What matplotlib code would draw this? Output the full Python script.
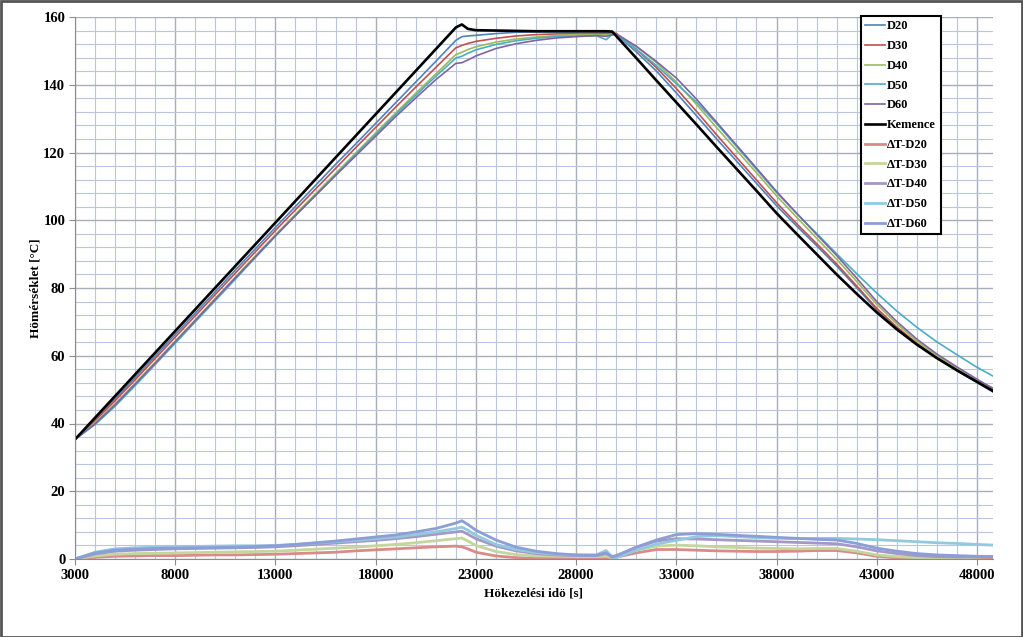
import matplotlib
matplotlib.use("Agg")
import matplotlib.pyplot as plt
from matplotlib.ticker import MultipleLocator, FixedLocator
from matplotlib.patches import Rectangle

plt.rcParams['font.family'] = ['Liberation Serif', 'DejaVu Serif']

time_s = [3000, 4000, 5000, 6000, 7000, 8000, 9000, 10000, 11000, 12000,
          13000, 14000, 15000, 16000, 17000, 18000, 19000, 20000, 21000, 22000,
          22300, 22600, 23000, 24000, 25000, 26000, 27000, 28000, 29000, 29500,
          29800, 30000, 31000, 32000, 33000, 34000, 35000, 36000, 37000, 38000,
          39000, 40000, 41000, 42000, 43000, 44000, 45000, 46000, 47000, 48000,
          48800]

kemence = [35.3, 41.7, 48.1, 54.5, 60.9, 67.3, 73.7, 80.1, 86.5, 92.9,
           99.3, 105.7, 112.1, 118.5, 124.9, 131.3, 137.7, 144.1, 150.5, 156.9,
           157.8, 156.5, 156.1, 156.0, 155.9, 155.8, 155.8, 155.8, 155.8, 155.8,
           155.7, 154.4, 147.9, 141.3, 134.8, 128.3, 121.7, 115.2, 108.7, 102.1,
           96.0, 90.0, 84.0, 78.3, 72.8, 67.8, 63.3, 59.3, 55.7, 52.3,
           49.6]

d20 = [35.3, 41.2, 47.3, 53.6, 59.9, 66.3, 72.6, 78.9, 85.3, 91.6,
       97.9, 104.1, 110.3, 116.5, 122.5, 128.6, 134.7, 140.8, 146.9, 153.1,
       154.2, 154.4, 154.6, 155.1, 155.5, 155.6, 155.6, 155.6, 155.6, 155.5,
       155.5, 154.9, 149.7, 144.1, 137.6, 130.9, 124.1, 117.5, 110.9, 104.3,
       98.3, 92.5, 86.5, 80.1, 73.6, 68.1, 63.4, 59.3, 55.6, 52.1,
       49.3]

d30 = [35.3, 40.8, 46.7, 52.9, 59.2, 65.5, 71.8, 78.1, 84.4, 90.7,
       97.0, 103.1, 109.2, 115.3, 121.4, 127.4, 133.4, 139.3, 145.1, 150.9,
       151.6, 152.2, 152.8, 153.7, 154.4, 154.8, 155.0, 155.1, 155.2, 155.1,
       155.2, 155.2, 150.5, 145.1, 138.9, 132.2, 125.3, 118.6, 111.9, 105.2,
       99.0, 93.1, 87.1, 80.6, 74.0, 68.5, 63.7, 59.5, 56.0, 52.8,
       50.4]

d40 = [35.3, 40.2, 45.8, 51.9, 58.1, 64.3, 70.6, 76.9, 83.2, 89.5,
       95.7, 101.8, 107.8, 113.8, 119.8, 125.8, 131.7, 137.5, 143.2, 148.9,
       149.6, 150.4, 151.2, 152.6, 153.5, 154.1, 154.5, 154.8, 154.8, 154.7,
       154.9, 155.0, 151.3, 146.6, 140.8, 134.2, 127.4, 120.7, 114.0, 107.2,
       100.9, 94.7, 88.5, 81.9, 75.2, 69.4, 64.3, 60.0, 56.3, 52.9,
       50.3]

d50 = [35.3, 39.7, 45.1, 51.2, 57.4, 63.7, 70.0, 76.3, 82.6, 89.0,
       95.3, 101.4, 107.4, 113.4, 119.4, 125.3, 131.2, 136.9, 142.5, 147.9,
       148.4, 149.3, 150.3, 151.9, 153.0, 153.7, 154.2, 154.4, 154.5, 153.3,
       154.9, 154.8, 150.5, 145.7, 140.3, 134.9, 128.6, 121.8, 115.0, 108.2,
       102.0, 96.1, 90.1, 84.2, 78.5, 73.2, 68.4, 64.1, 60.3, 56.6,
       54.0]

d60 = [35.3, 39.9, 45.5, 51.6, 57.8, 64.1, 70.4, 76.7, 83.0, 89.2,
       95.4, 101.4, 107.3, 113.2, 119.0, 124.8, 130.6, 136.1, 141.5, 146.3,
       146.5, 147.3, 148.5, 150.7, 152.1, 153.1, 153.8, 154.2, 154.5, 154.3,
       154.7, 155.0, 151.4, 146.9, 142.0, 135.8, 129.0, 122.2, 115.4, 108.5,
       102.1, 95.8, 89.6, 82.9, 76.0, 70.1, 64.9, 60.5, 56.7, 53.1,
       50.3]

dt_d20 = [0.0, 0.5, 0.8, 0.9, 1.0, 1.0, 1.1, 1.2, 1.2, 1.3,
          1.4, 1.6, 1.8, 2.0, 2.4, 2.7, 3.0, 3.3, 3.6, 3.8,
          3.6, 3.0, 2.0, 0.9, 0.4, 0.2, 0.2, 0.2, 0.2, 0.3,
          0.1, 0.5, 1.8, 2.8, 2.8, 2.6, 2.4, 2.3, 2.2, 2.2,
          2.3, 2.5, 2.5, 1.8, 0.8, 0.3, 0.1, 0.0, 0.1, 0.2,
          0.3]

dt_d30 = [0.0, 0.9, 1.4, 1.6, 1.7, 1.8, 1.9, 2.0, 2.1, 2.2,
          2.3, 2.6, 2.9, 3.2, 3.5, 3.9, 4.3, 4.8, 5.4, 6.0,
          6.2, 5.3, 4.0, 2.2, 1.3, 0.9, 0.8, 0.7, 0.7, 0.8,
          0.4, 0.8, 2.6, 3.8, 4.1, 3.9, 3.6, 3.4, 3.2, 3.1,
          3.0, 3.1, 3.1, 2.3, 1.2, 0.7, 0.4, 0.2, 0.3, 0.5,
          0.8]

dt_d40 = [0.0, 1.5, 2.3, 2.6, 2.8, 3.0, 3.1, 3.2, 3.3, 3.4,
          3.6, 3.9, 4.3, 4.7, 5.1, 5.5, 6.0, 6.6, 7.3, 8.0,
          8.2, 7.3, 6.0, 3.8, 2.4, 1.6, 1.2, 1.0, 1.0, 1.6,
          0.8, 1.0, 3.4, 5.3, 6.0, 5.9, 5.7, 5.5, 5.3, 5.1,
          4.9, 4.7, 4.5, 3.6, 2.4, 1.6, 1.0, 0.7, 0.6, 0.6,
          0.7]

dt_d50 = [0.0, 2.0, 3.0, 3.3, 3.5, 3.6, 3.7, 3.8, 3.9, 3.9,
          4.0, 4.3, 4.7, 5.1, 5.5, 6.0, 6.5, 7.2, 8.0, 9.0,
          9.4, 8.5, 7.0, 4.3, 2.8, 1.9, 1.4, 1.2, 1.2, 2.5,
          0.5, 0.4, 2.6, 4.4, 5.5, 6.6, 6.9, 6.6, 6.3, 6.1,
          6.0, 6.1, 6.1, 5.9, 5.7, 5.4, 5.1, 4.8, 4.6, 4.3,
          4.1]

dt_d60 = [0.0, 1.8, 2.6, 2.9, 3.1, 3.2, 3.3, 3.4, 3.5, 3.7,
          3.9, 4.3, 4.8, 5.3, 5.9, 6.5, 7.1, 8.0, 9.0, 10.6,
          11.3, 10.2, 8.5, 5.6, 3.5, 2.3, 1.6, 1.2, 1.1, 1.8,
          0.6, 0.9, 3.5, 5.6, 7.2, 7.5, 7.3, 7.0, 6.7, 6.4,
          6.1, 5.8, 5.6, 4.6, 3.2, 2.3, 1.6, 1.2, 1.0, 0.8,
          0.7]

x_ticks = [3000, 8000, 13000, 18000, 23000, 28000, 33000, 38000, 43000, 48000]
y_ticks = [0, 20, 40, 60, 80, 100, 120, 140, 160]

series = [
    ("D20", d20, "#4F81BD", 1.2),
    ("D30", d30, "#C0504D", 1.2),
    ("D40", d40, "#9BBB59", 1.2),
    ("D50", d50, "#4BACC6", 1.2),
    ("D60", d60, "#8064A2", 1.2),
    ("Kemence", kemence, "#000000", 1.9),
    ("\u0394T-D20", dt_d20, "#DA8A89", 2.0),
    ("\u0394T-D30", dt_d30, "#C3D69B", 2.0),
    ("\u0394T-D40", dt_d40, "#A597C6", 2.0),
    ("\u0394T-D50", dt_d50, "#92C9DE", 2.0),
    ("\u0394T-D60", dt_d60, "#8C9ED6", 2.0),
]

W, H = 1023, 637
fig = plt.figure(figsize=(W / 100, H / 100), dpi=100)
ax = fig.add_axes([75 / W, (H - 559) / H, (993 - 75) / W, (559 - 17) / H])

for label, vals, color, lw in series:
    ax.plot(time_s, vals, color=color, lw=lw, label=label, solid_joinstyle='round')

ax.set_xlim(3000, 48800)
ax.set_ylim(0, 160)
ax.xaxis.set_major_locator(FixedLocator(x_ticks))
ax.xaxis.set_minor_locator(MultipleLocator(1000))
ax.yaxis.set_major_locator(FixedLocator(y_ticks))
ax.yaxis.set_minor_locator(MultipleLocator(4))

ax.grid(which='minor', color='#B9C7DE', lw=0.8)
ax.grid(which='major', color='#A8AEB8', lw=1.0)
ax.set_axisbelow(True)

for s in ('top', 'right'):
    ax.spines[s].set_visible(False)
for s in ('left', 'bottom'):
    ax.spines[s].set_color('#8C8C8C')
    ax.spines[s].set_linewidth(0.8)

ax.tick_params(which='major', length=4, color='#8C8C8C', labelsize=10.5, pad=3)
ax.tick_params(which='minor', length=0)
for lab in ax.get_xticklabels() + ax.get_yticklabels():
    lab.set_fontweight('bold')

ax.set_xlabel("H\u00f6kezel\u00e9si id\u00f6 [s]", fontsize=9.5, fontweight='bold', labelpad=4)
ax.set_ylabel("H\u00f6m\u00e9rs\u00e9klet [\u00b0C]", fontsize=9.5, fontweight='bold', labelpad=1)

leg = ax.legend(loc='upper left', bbox_to_anchor=((861 - 75) / (993 - 75), 1.0 + 1 / 542),
                frameon=True, fancybox=False, fontsize=9, handlelength=1.6,
                handletextpad=0.15, borderpad=0.35, labelspacing=0.62,
                borderaxespad=0.0, prop={'weight': 'bold', 'size': 9})
leg.get_frame().set_edgecolor('black')
leg.get_frame().set_linewidth(1.5)
leg.get_frame().set_alpha(1.0)

fig.patches.append(Rectangle((0.5 / W, 0.5 / H), 1 - 1.5 / W, 1 - 1.5 / H,
                             transform=fig.transFigure, fill=False,
                             edgecolor='#555555', lw=2))

fig.savefig("out.png", dpi=100)
